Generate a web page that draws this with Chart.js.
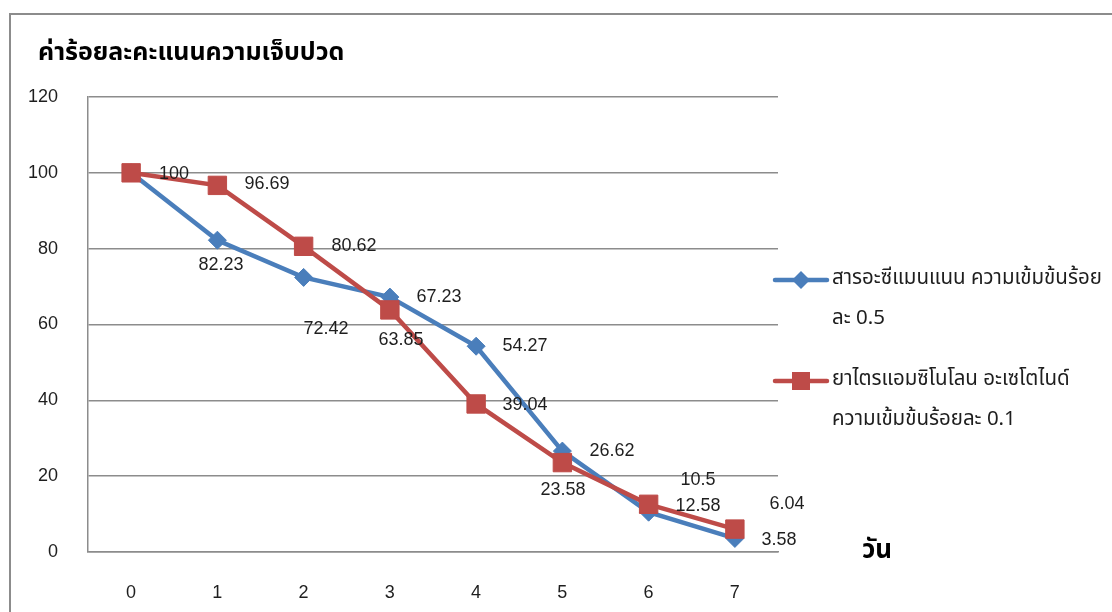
<!DOCTYPE html>
<html>
<head>
<meta charset="utf-8">
<script src="https://cdn.jsdelivr.net/npm/chart.js@4.4.1/dist/chart.umd.min.js"></script>
<style>
  html, body { margin: 0; padding: 0; background: #ffffff; }
  #wrap { width: 1112px; height: 612px; position: relative; }
</style>
</head>
<body>
<div id="wrap"><canvas id="pain" width="1112" height="612"></canvas></div>
<script>
// Days after treatment
const days = ['0', '1', '2', '3', '4', '5', '6', '7'];

// Percent pain score per day
const aloeValues = [100, 82.23, 72.42, 67.23, 54.27, 26.62, 10.5, 3.58];
const triamValues = [100, 96.69, 80.62, 63.85, 39.04, 23.58, 12.58, 6.04];

const aloeName = 'สารอะซีแมนแนน ความเข้มข้นร้อยละ 0.5';
const triamName = 'ยาไตรแอมซิโนโลน อะเซโตไนด์ ความเข้มข้นร้อยละ 0.1';
const aloeLegendLines = ['สารอะซีแมนแนน ความเข้มข้นร้อย', 'ละ 0.5'];
const triamLegendLines = ['ยาไตรแอมซิโนโลน อะเซโตไนด์', 'ความเข้มข้นร้อยละ 0.1'];

const yTicks = [0, 20, 40, 60, 80, 100, 120];

const chartTitle = 'ค่าร้อยละคะแนนความเจ็บปวด';
const xTitle = 'วัน';

const BLUE = '#4A7EBB';
const RED = '#BE4B48';
const GRID = '#8c8c8c';
const THAI = '"Noto Sans Thai", "Noto Sans", "DejaVu Sans", sans-serif';
const NUM = '"Liberation Sans", Arial, sans-serif';

// where each value label sits relative to its point (dx, dy)
const labelShift = [
  [[43, 1], [4, 25], [22, 52], [49, 0], [49, 0], [50, 0], [49, -32], [44, 2]],
  [[43, 1], [50, -1], [50, 0], [11, 30], [49, 1], [1, 27], [49, 2], [52, -25]]
];

const framePlugin = {
  id: 'frame',
  beforeDraw(chart) {
    const ctx = chart.ctx;
    ctx.save();
    ctx.fillStyle = '#ffffff';
    ctx.fillRect(0, 0, chart.width, chart.height);
    ctx.strokeStyle = GRID;
    ctx.lineWidth = 2;
    ctx.beginPath();
    ctx.moveTo(10, 612);
    ctx.lineTo(10, 14);
    ctx.lineTo(1112, 14);
    ctx.stroke();
    ctx.restore();
  }
};

const textPlugin = {
  id: 'texts',
  afterDatasetsDraw(chart) {
    const ctx = chart.ctx;
    ctx.save();
    // value labels; a label landing on an identical one is drawn once
    ctx.font = '18px ' + NUM;
    ctx.fillStyle = '#1e1e1e';
    ctx.textAlign = 'center';
    ctx.textBaseline = 'middle';
    const drawn = new Set();
    [1, 0].forEach(di => {
      const meta = chart.getDatasetMeta(di);
      const vals = chart.data.datasets[di].data;
      meta.data.forEach((pt, i) => {
        const s = labelShift[di][i];
        const x = Math.round(pt.x + s[0]);
        const y = Math.round(pt.y + s[1]);
        const key = vals[i] + '@' + x + ',' + y;
        if (drawn.has(key)) return;
        drawn.add(key);
        ctx.fillText(String(vals[i]), x, y);
      });
    });
    ctx.restore();
  },
  afterDraw(chart) {
    const ctx = chart.ctx;
    ctx.save();
    // title
    ctx.fillStyle = '#000000';
    ctx.font = 'bold 25px ' + THAI;
    ctx.textAlign = 'left';
    ctx.textBaseline = 'middle';
    ctx.fillText(chartTitle, 38, 55);
    // x axis title
    ctx.font = 'bold 26px ' + THAI;
    ctx.fillText(xTitle, 862, 553);
    // legend
    const entries = [
      { lines: aloeLegendLines, color: BLUE, style: 'diamond', y: 280 },
      { lines: triamLegendLines, color: RED, style: 'square', y: 381 }
    ];
    entries.forEach(e => {
      ctx.strokeStyle = e.color;
      ctx.lineWidth = 4.5;
      ctx.lineCap = 'round';
      ctx.beginPath();
      ctx.moveTo(775, e.y);
      ctx.lineTo(827, e.y);
      ctx.stroke();
      ctx.fillStyle = e.color;
      ctx.beginPath();
      if (e.style === 'diamond') {
        ctx.moveTo(801, e.y - 9);
        ctx.lineTo(810, e.y);
        ctx.lineTo(801, e.y + 9);
        ctx.lineTo(792, e.y);
        ctx.closePath();
      } else {
        ctx.rect(792, e.y - 9, 18, 18);
      }
      ctx.fill();
      ctx.fillStyle = '#1e1e1e';
      ctx.font = '20.5px ' + THAI;
      ctx.textAlign = 'left';
      ctx.textBaseline = 'middle';
      e.lines.forEach((ln, k) => ctx.fillText(ln, 832, e.y + k * 40));
    });
    ctx.restore();
  }
};

new Chart(document.getElementById('pain'), {
  type: 'line',
  data: {
    labels: days,
    datasets: [
      {
        label: aloeName,
        data: aloeValues,
        borderColor: BLUE,
        backgroundColor: BLUE,
        borderWidth: 4.5,
        pointStyle: 'rectRot',
        pointRadius: 9,
        pointBorderWidth: 1,
        pointBorderColor: BLUE,
        pointBackgroundColor: BLUE,
        tension: 0,
        order: 1
      },
      {
        label: triamName,
        data: triamValues,
        borderColor: RED,
        backgroundColor: RED,
        borderWidth: 4.5,
        pointStyle: 'rect',
        pointRadius: 13,
        pointBorderWidth: 1,
        pointBorderColor: RED,
        pointBackgroundColor: RED,
        tension: 0,
        order: 0
      }
    ]
  },
  options: {
    responsive: false,
    animation: false,
    layout: { padding: { left: 0, top: 97, right: 334, bottom: 0 } },
    plugins: {
      legend: { display: false },
      title: { display: false },
      tooltip: { enabled: false }
    },
    scales: {
      x: {
        offset: true,
        grid: { display: false, drawTicks: false },
        border: { display: true, color: GRID, width: 1.5 },
        ticks: {
          padding: 30,
          color: '#1e1e1e',
          font: { family: NUM, size: 18 }
        },
        afterFit(s) { s.height = 60; }
      },
      y: {
        min: 0,
        max: 120,
        afterBuildTicks(s) { s.ticks = yTicks.map(v => ({ value: v })); },
        grid: { color: GRID, lineWidth: 1.5, drawTicks: false },
        border: { display: true, color: GRID, width: 1.5 },
        ticks: {
          padding: 30,
          color: '#1e1e1e',
          font: { family: NUM, size: 18 }
        },
        afterFit(s) { s.width = 88; }
      }
    }
  },
  plugins: [framePlugin, textPlugin]
});
</script>
</body>
</html>
